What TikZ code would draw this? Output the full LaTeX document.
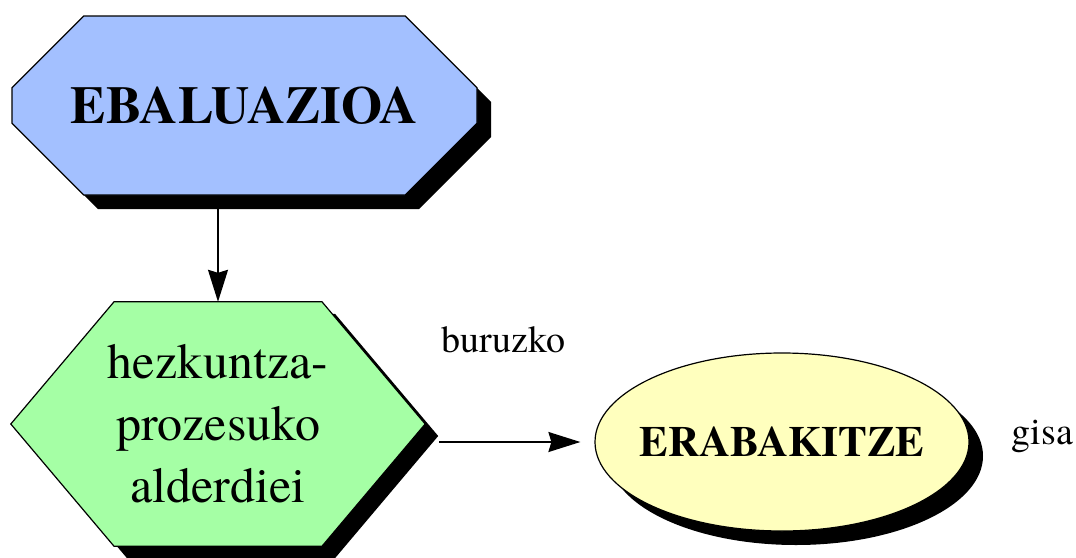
\documentclass[tikz,border=0pt]{standalone}
\usepackage{fontspec}
\setmainfont{texgyretermes}[Extension=.otf,UprightFont=*-regular,BoldFont=*-bold,ItalicFont=*-italic,BoldItalicFont=*-bolditalic]
\usetikzlibrary{shapes.misc,shapes.geometric,shadows,arrows.meta,backgrounds,calc}
\definecolor{evblue}{RGB}{163,192,255}
\definecolor{hxgreen}{RGB}{165,255,165}
\definecolor{eryellow}{RGB}{255,255,190}
\tikzset{
  shadowed/.style={drop shadow={shadow xshift=14pt,shadow yshift=-14pt,opacity=1,fill=black}},
  boxline/.style={draw=black,line width=1.2pt,inner sep=0pt},
  arr/.style={line width=1.6pt,-{Stealth[length=32pt,width=20pt,inset=3pt]}},
  lbl/.style={font=\fontsize{38}{44}\selectfont,anchor=base,inner sep=0pt}
}
\begin{document}
\begin{tikzpicture}[x=1pt,y=-1pt]
\useasboundingbox (0,0) rectangle (1076,557);
\node[boxline,shadowed,fill=evblue,chamfered rectangle,chamfered rectangle xsep=53pt,chamfered rectangle ysep=53pt,
  minimum width=465pt,minimum height=179pt,font=\fontsize{53}{61}\selectfont\bfseries] (ev) at (244.5,105.5) {EBALUAZIOA};
\node[inner sep=0pt,minimum width=414pt,minimum height=244pt,align=center,font=\fontsize{50}{62}\selectfont] (hx) at (218,424) {hezkuntza-\\prozesuko\\alderdiei};
\begin{scope}[on background layer]
  \fill[black,transform canvas={shift={(13pt,-12pt)}}] (hx.west) -- ([xshift=-104pt]hx.north) -- ([xshift=104pt]hx.north) -- (hx.east)
    -- ([xshift=104pt]hx.south) -- ([xshift=-104pt]hx.south) -- cycle;
  \draw[fill=hxgreen,line width=1.2pt,line join=miter] (hx.west) -- ([xshift=-104pt]hx.north) -- ([xshift=104pt]hx.north) -- (hx.east)
    -- ([xshift=104pt]hx.south) -- ([xshift=-104pt]hx.south) -- cycle;
\end{scope}
\node[boxline,shadowed,fill=eryellow,ellipse,minimum width=374pt,minimum height=178pt,
  font=\fontsize{43}{50}\selectfont\bfseries] (er) at (782,442) {\makebox[0pt]{ERABAKITZE}};
\node[lbl] (bur) at (503.5,352) {buruzko};
\node[lbl] (gis) at (1042.5,444) {gisa};
\draw[arr] (ev.south -| hx.north) -- (hx.north);
\draw[arr] ($(hx.east |- er.west)+(14,0)$) -- ($(er.west)+(-14,0)$);
\end{tikzpicture}
\end{document}
